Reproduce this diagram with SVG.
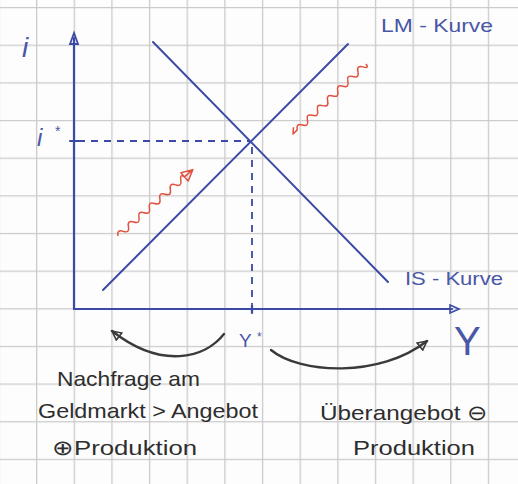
<svg xmlns="http://www.w3.org/2000/svg" width="518" height="484" viewBox="0 0 518 484">
<style>
.ax{stroke:#3b4aa5;stroke-width:2.2;fill:none;stroke-linecap:round}
.cv{stroke:#3b4aa5;stroke-width:2;fill:none;stroke-linecap:round}
.dash{stroke:#3b4aa5;stroke-width:1.8;fill:none;stroke-dasharray:7 6}
.red{stroke:#e2503f;stroke-width:1.5;fill:none;stroke-linejoin:round}
.blk{stroke:#3a3a3a;stroke-width:2.4;fill:none;stroke-linecap:round}
.bt{fill:#4a56a6;font-family:"Liberation Sans",Arial,sans-serif}
.kt{fill:#2e2e2e;font-family:"Liberation Sans",Arial,sans-serif;font-size:21px}
</style>
<defs>
<pattern id="grid" patternUnits="userSpaceOnUse" x="36" y="7" width="37.65" height="37.65">
<path d="M0.6,0 V37.65 M0,0.6 H37.65" stroke="#cbcbcb" stroke-width="1.4" fill="none"/>
</pattern>
<marker id="bh" viewBox="0 0 12 12" refX="10" refY="6" markerWidth="12" markerHeight="12" markerUnits="userSpaceOnUse" orient="auto">
<path d="M1,1.5 L10,6 L1,10.5 Z" fill="none" stroke="#3a3a3a" stroke-width="1.6"/>
</marker>
</defs>
<rect width="518" height="484" fill="#fdfdfd"/>
<rect width="518" height="484" fill="url(#grid)"/>

<g id="axes">
<line class="ax" x1="74" y1="309" x2="74" y2="38"/>
<path d="M74,33 L70,44 L78,44 Z" fill="none" stroke="#3b4aa5" stroke-width="1.8"/>
<line class="ax" x1="74" y1="309" x2="452" y2="309"/>
<path d="M459,309 L450,305 L450,313 Z" fill="none" stroke="#3b4aa5" stroke-width="1.6"/>
<line class="ax" x1="70" y1="141" x2="78" y2="141"/>
<line class="ax" x1="252" y1="305" x2="252" y2="313"/>
<text class="bt" x="22" y="57" font-size="28" font-style="italic">i</text>
<text class="bt" x="37" y="146" font-size="24" font-style="italic">i</text>
<text class="bt" x="55" y="136" font-size="14">*</text>
<text class="bt" x="454" y="355" font-size="40">Y</text>
<text class="bt" x="239" y="347" font-size="19">Y</text>
<text class="bt" x="257" y="341" font-size="12">*</text>
</g>

<g id="lm-kurve">
<line class="cv" x1="103" y1="290" x2="348" y2="44"/>
<text class="bt" x="381" y="32" font-size="19" textLength="112" lengthAdjust="spacingAndGlyphs">LM - Kurve</text>
</g>

<g id="is-kurve">
<line class="cv" x1="153" y1="42" x2="388" y2="282"/>
<text class="bt" x="405" y="285" font-size="19" textLength="98" lengthAdjust="spacingAndGlyphs">IS - Kurve</text>
</g>

<g id="gleichgewicht">
<line class="dash" x1="78" y1="141" x2="250" y2="141"/>
<line class="dash" x1="252" y1="147" x2="252" y2="304"/>
</g>

<g id="connectors">
<g transform="translate(118,236) rotate(-41.6)">
<path class="red" d="M0,0 q3.5,-6 7,0 t7,0 t7,0 t7,0 t7,0 t7,0 t7,0 t7,0 t7,0 t7,0 t7,0 t7,0 t5,0"/>
<path class="red" d="M89,0 L100,0 L89,-5.5 Z M89,0 L89,5.5 L100,0" stroke-width="1.8"/>
</g>
<g transform="translate(293,134) rotate(-43.8)">
<path class="red" d="M6,0 q3.5,-6 7,0 t7,0 t7,0 t7,0 t7,0 t7,0 t7,0 t7,0 t7,0 t7,0 t7,0 t7,0 t7,0 t4,0"/>
<path class="red" d="M6,0 L0,0 L5,-4.5" stroke-width="1.8"/>
</g>
<path class="blk" d="M224,334 C205,358 162,370 112,331" marker-end="url(#bh)"/>
<path class="blk" d="M271,350 C300,374 380,378 427,341" marker-end="url(#bh)"/>
</g>

<g id="text-links">
<text class="kt" x="57" y="386" textLength="143" lengthAdjust="spacingAndGlyphs">Nachfrage am</text>
<text class="kt" x="38" y="418" textLength="220" lengthAdjust="spacingAndGlyphs">Geldmarkt &gt; Angebot</text>
<text class="kt" x="52" y="455" textLength="145" lengthAdjust="spacingAndGlyphs">⊕Produktion</text>
</g>

<g id="text-rechts">
<text class="kt" x="320" y="420" textLength="168" lengthAdjust="spacingAndGlyphs">Überangebot ⊖</text>
<text class="kt" x="353" y="455" textLength="122" lengthAdjust="spacingAndGlyphs">Produktion</text>
</g>
</svg>
